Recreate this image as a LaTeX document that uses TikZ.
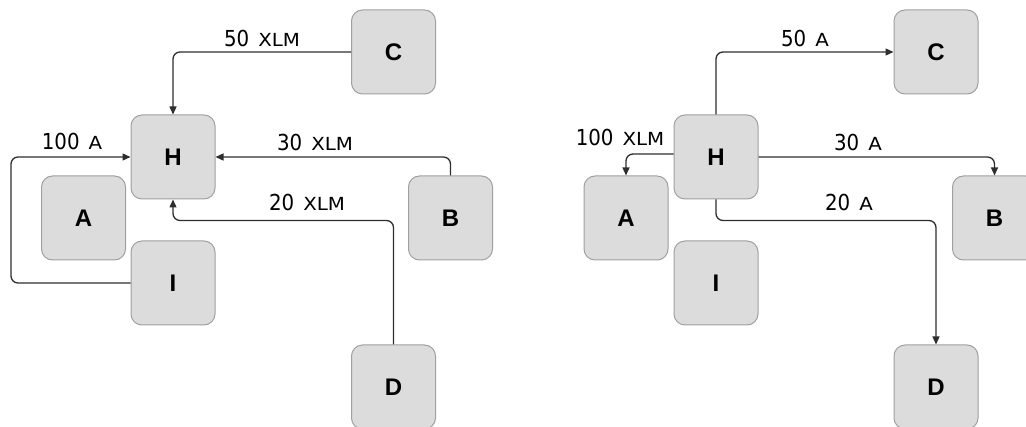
\documentclass[tikz,border=0pt]{standalone}
\usepackage{fontspec}
\setmainfont{Liberation Sans}
\newfontfamily\numfont[FakeStretch=0.9]{DejaVu Sans}
\newfontfamily\unitfont[FakeStretch=1.1]{DejaVu Sans}
\usetikzlibrary{arrows.meta}
\definecolor{boxfill}{HTML}{DCDCDC}
\definecolor{boxline}{HTML}{A0A0A0}
\definecolor{wire}{HTML}{2E2E2E}
\newcommand{\flowlab}[2]{{\numfont\fontsize{22}{24}\selectfont #1}\hspace{9pt}{\unitfont\fontsize{18}{20}\selectfont #2}}
\tikzset{
  bx/.style={draw=boxline, fill=boxfill, line width=1pt, rounded corners=11pt,
    minimum width=84pt, minimum height=84pt, inner sep=0pt,
    font=\bfseries\fontsize{24}{26}\selectfont},
  wirestyle/.style={draw=wire, line width=1.3pt, rounded corners=7pt,
    -{Triangle[length=8pt,width=7pt]}},
  lab/.style={inner sep=0pt, anchor=base, text=black}
}
\begin{document}
\begin{tikzpicture}[x=1pt,y=-1pt]
\useasboundingbox (0,0) rectangle (1026,427);
\clip (0,0) rectangle (1026,427);
% left panel
\node[bx] (C1) at (393.5,52) {C};
\node[bx] (H1) at (173,157) {H};
\node[bx] (A1) at (83.5,218) {A};
\node[bx] (I1) at (173,283) {I};
\node[bx] (B1) at (450.5,218) {B};
\node[bx] (D1) at (393.5,387) {D};
\coordinate (IL) at (11,283);
\draw[wirestyle] (C1.west) -| (H1.north);
\draw[wirestyle] (B1.north) |- (H1.east);
\draw[wirestyle] (D1.north) |- ([yshift=-21pt]H1.south) -- (H1.south);
\draw[wirestyle] (I1.west) -- (IL) |- (H1.west);
\node[lab] (l50a) at (262,46.5) {\flowlab{50}{XLM}};
\node[lab] (l30a) at (315,150.5) {\flowlab{30}{XLM}};
\node[lab] (l20a) at (307,210.5) {\flowlab{20}{XLM}};
\node[lab] (l100a) at (72,149.5) {\flowlab{100}{A}};
% right panel
\node[bx] (C2) at (936,52) {C};
\node[bx] (H2) at (716,157) {H};
\node[bx] (A2) at (626,218) {A};
\node[bx] (I2) at (716,283) {I};
\node[bx] (B2) at (994.5,218) {B};
\node[bx] (D2) at (936,387) {D};
\draw[wirestyle] (H2.north) |- (C2.west);
\draw[wirestyle] (H2.east) -| (B2.north);
\draw[wirestyle] (H2.south) -- ([yshift=-21pt]H2.south) -| (D2.north);
\draw[wirestyle] ([yshift=3pt]H2.west) -| (A2.north);
\node[lab] (l50b) at (805,46.5) {\flowlab{50}{A}};
\node[lab] (l30b) at (858,150.5) {\flowlab{30}{A}};
\node[lab] (l20b) at (849,210.5) {\flowlab{20}{A}};
\node[lab] (l100b) at (620,145.5) {\flowlab{100}{XLM}};
\end{tikzpicture}
\end{document}
